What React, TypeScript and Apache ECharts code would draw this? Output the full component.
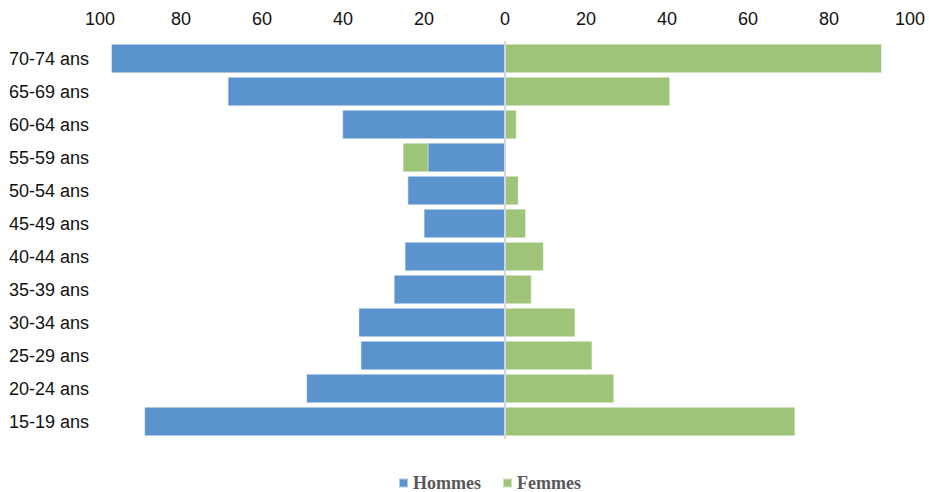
import React, { useEffect, useRef } from "react";
import * as echarts from "echarts";

const categories = [
  "70-74 ans", "65-69 ans", "60-64 ans", "55-59 ans", "50-54 ans", "45-49 ans",
  "40-44 ans", "35-39 ans", "30-34 ans", "25-29 ans", "20-24 ans", "15-19 ans",
];
const hommes = [97.3, 68.5, 40.2, 19.1, 24.1, 20.1, 24.8, 27.5, 36.2, 35.7, 49.1, 89.1];
const femmes = [93.1, 40.8, 2.9, -25.3, 3.4, 5.2, 9.6, 6.6, 17.4, 21.6, 27.0, 71.7];

const BLUE = "#5b93ce";
const GREEN = "#9dc479";

export default function App() {
  const ref = useRef<HTMLDivElement>(null);
  useEffect(() => {
    if (!ref.current) return;
    const chart = echarts.init(ref.current, null, { renderer: "svg" });
    chart.setOption({
      animation: false,
      grid: { left: 100, right: 19, top: 42, bottom: 54, containLabel: false, outerBoundsMode: "none" },
      legend: {
        data: ["Hommes", "Femmes"],
        top: 469,
        left: 393,
        itemWidth: 9,
        itemHeight: 9,
        itemGap: 21,
        icon: "rect",
        textStyle: {
          fontFamily: "Liberation Serif",
          fontWeight: "bold",
          fontSize: 18,
          color: "#595959",
        },
      },
      xAxis: {
        type: "value",
        position: "top",
        min: -100,
        max: 100,
        interval: 20,
        axisLine: { show: false },
        axisTick: { show: false },
        splitLine: { show: false },
        axisLabel: {
          margin: 14,
          fontFamily: "Liberation Sans",
          fontSize: 18,
          color: "#111",
          formatter: (v: number) => String(Math.abs(v)),
        },
      },
      yAxis: {
        type: "category",
        data: categories,
        inverse: true,
        z: 5,
        axisLine: { show: true, onZero: true, lineStyle: { color: "#d3d6dd", width: 2 } },
        axisTick: { show: false },
        axisLabel: {
          align: "left",
          margin: 91,
          fontFamily: "Liberation Sans",
          fontSize: 18,
          color: "#111",
        },
      },
      series: [
        {
          name: "Femmes",
          type: "bar",
          data: femmes,
          barCategoryGap: "10%",
          barGap: "-100%",
          itemStyle: { color: GREEN, borderColor: "rgba(255,255,255,0.5)", borderWidth: 1 },
        },
        {
          name: "Hommes",
          type: "bar",
          data: hommes.map((v) => -v),
          barCategoryGap: "10%",
          barGap: "-100%",
          itemStyle: { color: BLUE, borderColor: "rgba(255,255,255,0.5)", borderWidth: 1 },
        },
      ],
    });
    return () => chart.dispose();
  }, []);
  return (
    <div
      ref={ref}
      style={{ position: "absolute", left: 0, top: 0, width: 929, height: 492 }}
    />
  );
}
